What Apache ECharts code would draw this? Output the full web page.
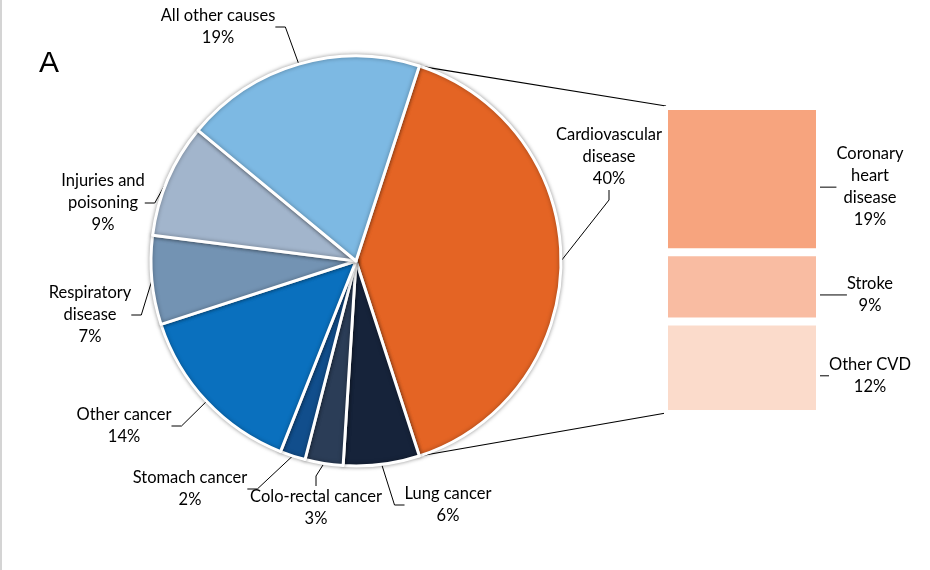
<!DOCTYPE html>
<html>
<head>
<meta charset="utf-8">
<script src="https://cdn.jsdelivr.net/npm/echarts@6/dist/echarts.min.js"></script>
<style>
html,body{margin:0;padding:0;background:#fff;}
#main{width:930px;height:570px;}
</style>
</head>
<body>
<div id="main"></div>
<script>
// ---- data ----
const pieCategories = ['Cardiovascular\ndisease', 'Lung cancer', 'Colo-rectal cancer', 'Stomach cancer', 'Other cancer', 'Respiratory\ndisease', 'Injuries and\npoisoning', 'All other causes'];
const pieValues = [40, 6, 3, 2, 14, 7, 9, 19];
const barCategories = ['Coronary\nheart\ndisease', 'Stroke', 'Other CVD'];
const barValues = [19, 9, 12];

// ---- styles / layout ----
const pieColors = ['#E46424', '#16233A', '#2B3D57', '#114E8C', '#0A70BE', '#7393B3', '#A2B5CC', '#7DB9E3'];
const barColors = ['#F7A47E', '#F9BCA2', '#FBDBCB'];
const pieLabelPos = [[609,157],[448,505],[316,508],[190,489],[124,426],[90,315],[103,203],[218,27]];
const barLabelX = 870;
const FONT = 'Lato';
const FS = 16.5;

const chart = echarts.init(document.getElementById('main'), null, {renderer: 'canvas'});

const barSeries = barValues.map((v, i) => ({
  type: 'bar',
  name: barCategories[i],
  stack: 'cvd',
  barWidth: '100%',
  data: [v],
  itemStyle: {color: barColors[i], borderColor: '#fff', borderWidth: 4},
  label: {
    show: true, position: 'right', distance: 20,
    formatter: barCategories[i] + '\n' + v + '%',
    color: '#000', fontFamily: FONT, fontSize: FS, lineHeight: 22, align: 'center', verticalAlign: 'middle'
  },
  labelLine: {show: true, lineStyle: {color: '#000', width: 1}},
  labelLayout: function (p) { return {x: barLabelX, dy: 4, align: 'center', verticalAlign: 'middle'}; },
  emphasis: {disabled: true},
  animation: false
}));

const option = {
  backgroundColor: '#fff',
  animation: false,
  grid: {left: 664, top: 106, width: 156, height: 308},
  xAxis: {type: 'category', data: ['CVD'], show: false},
  yAxis: {type: 'value', min: 0, max: 40, inverse: true, show: false},
  series: [
    {
      type: 'pie',
      center: [356, 261],
      radius: 205,
      startAngle: 72,
      clockwise: true,
      data: pieValues.map((v, i) => ({name: pieCategories[i], value: v, itemStyle: {color: pieColors[i]}})),
      itemStyle: {borderColor: '#fff', borderWidth: 3, shadowBlur: 4, shadowColor: 'rgba(0,0,0,0.35)'},
      label: {
        show: true, position: 'outside',
        formatter: '{b}\n{d}%',
        color: '#000', fontFamily: FONT, fontSize: FS, lineHeight: 22
      },
      labelLine: {show: true, length: 10, length2: 10, lineStyle: {color: '#000', width: 1}},
      labelLayout: function (p) {
        const c = pieLabelPos[p.dataIndex];
        return {x: c[0], y: c[1], align: 'center', verticalAlign: 'middle'};
      },
      emphasis: {disabled: true},
      animation: false
    }
  ].concat(barSeries)
};
chart.setOption(option);

// connector lines from the CVD slice edges to the bar corners
const lay = chart.getModel().getSeriesByIndex(0).getData().getItemLayout(0);
const rect = chart.getModel().getComponent('grid').coordinateSystem.getRect();
const p1 = [lay.cx + lay.r * Math.cos(lay.startAngle), lay.cy + lay.r * Math.sin(lay.startAngle)];
const p2 = [lay.cx + lay.r * Math.cos(lay.endAngle), lay.cy + lay.r * Math.sin(lay.endAngle)];
chart.setOption({
  graphic: [
    {type: 'line', shape: {x1: p1[0], y1: p1[1], x2: rect.x + 2, y2: rect.y}, style: {stroke: '#000', lineWidth: 1.2}, z: 0},
    {type: 'line', shape: {x1: p2[0], y1: p2[1], x2: rect.x + 2, y2: rect.y + rect.height - 1}, style: {stroke: '#000', lineWidth: 1.2}, z: 0},
    {type: 'text', left: 39, top: 49, style: {text: 'A', fontFamily: 'Liberation Sans', fontSize: 30, fill: '#000'}},
    {type: 'line', shape: {x1: 1, y1: 0, x2: 1, y2: 570}, style: {stroke: '#d4d4d4', lineWidth: 2}}
  ]
});
</script>
</body>
</html>
